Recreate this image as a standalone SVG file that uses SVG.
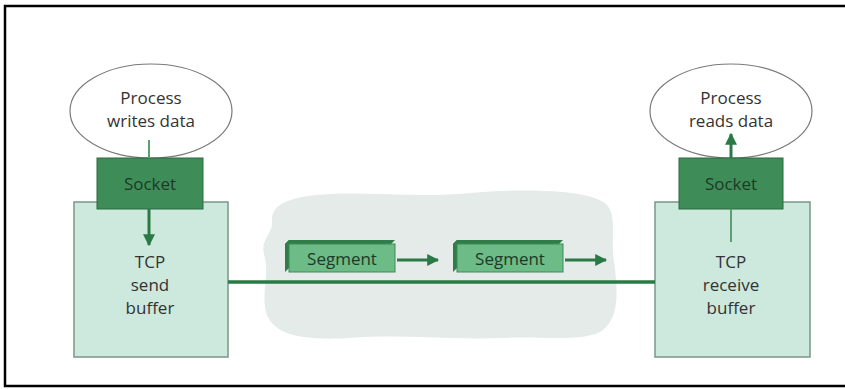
<svg xmlns="http://www.w3.org/2000/svg" width="845" height="389" viewBox="0 0 845 389">
  <defs>
    <style>
      .lbl { font-family: "Open Sans", "Liberation Sans", sans-serif; font-size: 17px; fill: #333; text-anchor: middle; }
      .dark { fill: #1c3a27; }
      .proc { fill: #ffffff; stroke: #7a7a7a; stroke-width: 1.2; }
      .sock { fill: #3e8d58; stroke: #2b6b42; stroke-width: 1; }
      .buf { fill: #cde8dc; stroke: #7a968a; stroke-width: 1.5; }
      .wire { stroke: #2a7a45; stroke-width: 3.5; fill: none; }
      .flow { stroke: #2a7a45; stroke-width: 3; fill: none; }
      .thin { stroke: #5aa070; stroke-width: 2; fill: none; }
      .seg { fill: #6dbb87; stroke: #3f8a58; stroke-width: 1; }
      .segside { fill: #2f7d48; }
    </style>
    <marker id="ah" viewBox="0 0 10 10" refX="9" refY="5" markerWidth="4" markerHeight="4" orient="auto">
      <path d="M0,0 L10,5 L0,10 z" fill="#2a7a45"/>
    </marker>
  </defs>

  <rect width="845" height="389" fill="#ffffff"/>
  <!-- outer frame (open on the right) -->
  <path d="M850,6 H5 V386 H850" fill="none" stroke="#000" stroke-width="2.5"/>

  <!-- network cloud -->
  <path id="cloud" d="M272,222 C270,204 290,196 330,194 C380,192 420,198 470,193 C530,188 590,190 606,204 C618,216 610,238 614,262 C618,290 620,320 600,332 C580,342 540,336 500,338 C450,340 400,334 350,338 C300,341 272,334 266,312 C261,292 270,274 264,254 C260,240 273,234 272,222 Z" fill="#e4ebe8"/>

  <!-- sender side -->
  <g id="send-buffer">
    <rect class="buf" x="74" y="202" width="154" height="155"/>
    <text class="lbl" x="150" y="268">TCP</text>
    <text class="lbl" x="150" y="291">send</text>
    <text class="lbl" x="150" y="314">buffer</text>
  </g>
  <g id="send-process">
    <ellipse class="proc" cx="151" cy="111" rx="81" ry="47"/>
    <text class="lbl" x="151" y="104">Process</text>
    <text class="lbl" x="151" y="127">writes data</text>
  </g>
  <g id="send-socket">
    <rect class="sock" x="97" y="158" width="106" height="51"/>
    <text class="lbl dark" x="150" y="190">Socket</text>
  </g>

  <!-- receiver side -->
  <g id="recv-buffer">
    <rect class="buf" x="655" y="202" width="155" height="155"/>
    <text class="lbl" x="731" y="268">TCP</text>
    <text class="lbl" x="731" y="291">receive</text>
    <text class="lbl" x="731" y="314">buffer</text>
  </g>
  <g id="recv-process">
    <ellipse class="proc" cx="731" cy="111" rx="81" ry="47"/>
    <text class="lbl" x="731" y="104">Process</text>
    <text class="lbl" x="731" y="127">reads data</text>
  </g>
  <g id="recv-socket">
    <rect class="sock" x="679" y="158" width="104" height="51"/>
    <text class="lbl dark" x="731" y="190">Socket</text>
  </g>

  <!-- segments in transit -->
  <g id="segment-1">
    <path class="segside" d="M285,244 L289,240 L395,240 L391,244 Z"/>
    <path class="segside" d="M285,244 L289,240 L289,268 L285,272 Z"/>
    <rect class="seg" x="289" y="244" width="106" height="28"/>
    <text class="lbl dark" x="342" y="265">Segment</text>
  </g>
  <g id="segment-2">
    <path class="segside" d="M453,244 L457,240 L563,240 L559,244 Z"/>
    <path class="segside" d="M453,244 L457,240 L457,268 L453,272 Z"/>
    <rect class="seg" x="457" y="244" width="106" height="28"/>
    <text class="lbl dark" x="510" y="265">Segment</text>
  </g>

  <!-- connectors -->
  <g id="connectors">
    <line class="wire" x1="228" y1="282" x2="655" y2="282"/>
    <line class="thin" x1="149" y1="140" x2="149" y2="158"/>
    <line class="flow" x1="149" y1="209" x2="149" y2="245" marker-end="url(#ah)"/>
    <line class="thin" x1="731" y1="242" x2="731" y2="209"/>
    <line class="flow" x1="731" y1="158" x2="731" y2="134" marker-end="url(#ah)"/>
    <line class="flow" x1="397" y1="260" x2="438" y2="260" marker-end="url(#ah)"/>
    <line class="flow" x1="565" y1="260" x2="606" y2="260" marker-end="url(#ah)"/>
  </g>
</svg>
